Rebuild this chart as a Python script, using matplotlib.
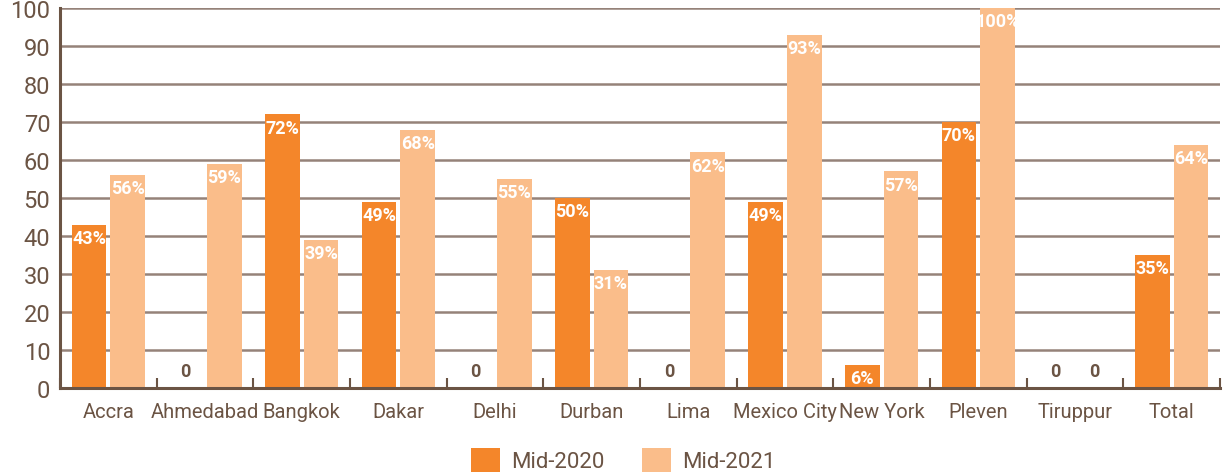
import matplotlib
matplotlib.use("Agg")
import matplotlib.pyplot as plt
import numpy as np

categories = ["Accra", "Ahmedabad", "Bangkok", "Dakar", "Delhi", "Durban", "Lima",
              "Mexico City", "New York", "Pleven", "Tiruppur", "Total"]
mid2020 = [43, 0, 72, 49, 0, 50, 0, 49, 6, 70, 0, 35]
mid2021 = [56, 59, 39, 68, 55, 31, 62, 93, 57, 100, 0, 64]
series_names = ["Mid-2020", "Mid-2021"]
yticks = list(range(0, 101, 10))

C1 = "#F4862A"
C2 = "#FABD8A"
TXT = "#6B5444"
GRID = "#958279"

plt.rcParams['font.family'] = ['Roboto', 'DejaVu Sans']

fig = plt.figure(figsize=(12.23, 4.77), dpi=100)
ax = fig.add_axes([60/1223, 88/477, 1160/1223, 380/477])

x = np.arange(len(categories))
w = 0.36
off = 0.2
b1 = ax.bar(x - off, mid2020, w, color=C1, zorder=3, label=series_names[0])
b2 = ax.bar(x + off, mid2021, w, color=C2, zorder=3, label=series_names[1])

ax.set_ylim(0, 100)
ax.set_xlim(-0.5, len(categories) - 0.5)
ax.set_yticks(yticks)
ax.set_yticklabels([str(t) for t in yticks], fontsize=17, color=TXT)
ax.tick_params(axis='y', length=0, pad=7)
ax.set_xticks(x)
ax.set_xticklabels(categories, fontsize=14.5, color=TXT)
ax.tick_params(axis='x', length=0, pad=10)
ax.set_xticks(np.arange(len(categories) + 1) - 0.5, minor=True)
ax.tick_params(axis='x', which='minor', direction='in', length=7, width=1.5, color=TXT)

for t in yticks[1:]:
    ax.axhline(t, color=GRID, lw=1.8, zorder=1)

for s in ['top', 'right']:
    ax.spines[s].set_visible(False)
ax.spines['left'].set_color(TXT)
ax.spines['left'].set_linewidth(2.2)
ax.spines['bottom'].set_color(TXT)
ax.spines['bottom'].set_linewidth(2.2)
ax.spines['bottom'].set_zorder(4)

def label(bars, vals):
    for b, v in zip(bars, vals):
        cx = b.get_x() + b.get_width() / 2
        if v == 0:
            ax.text(cx, 2, "0", ha='center', va='bottom', fontsize=13, fontweight='bold',
                    color=TXT, zorder=5)
        else:
            ax.annotate(f"{v}%", (cx, v), xytext=(0, -3), textcoords='offset points',
                        ha='center', va='top', fontsize=13, fontweight='bold',
                        color='white', zorder=5)

label(b1, mid2020)
label(b2, mid2021)

leg = fig.legend(handles=[b1, b2], labels=series_names, loc='center',
                 bbox_to_anchor=(623/1223, 1 - 461/477), ncol=2, frameon=False,
                 fontsize=16, handlelength=1.3, handleheight=1.3, columnspacing=1.7,
                 handletextpad=0.5)
for t in leg.get_texts():
    t.set_color(TXT)

fig.savefig("out.png", dpi=100)
